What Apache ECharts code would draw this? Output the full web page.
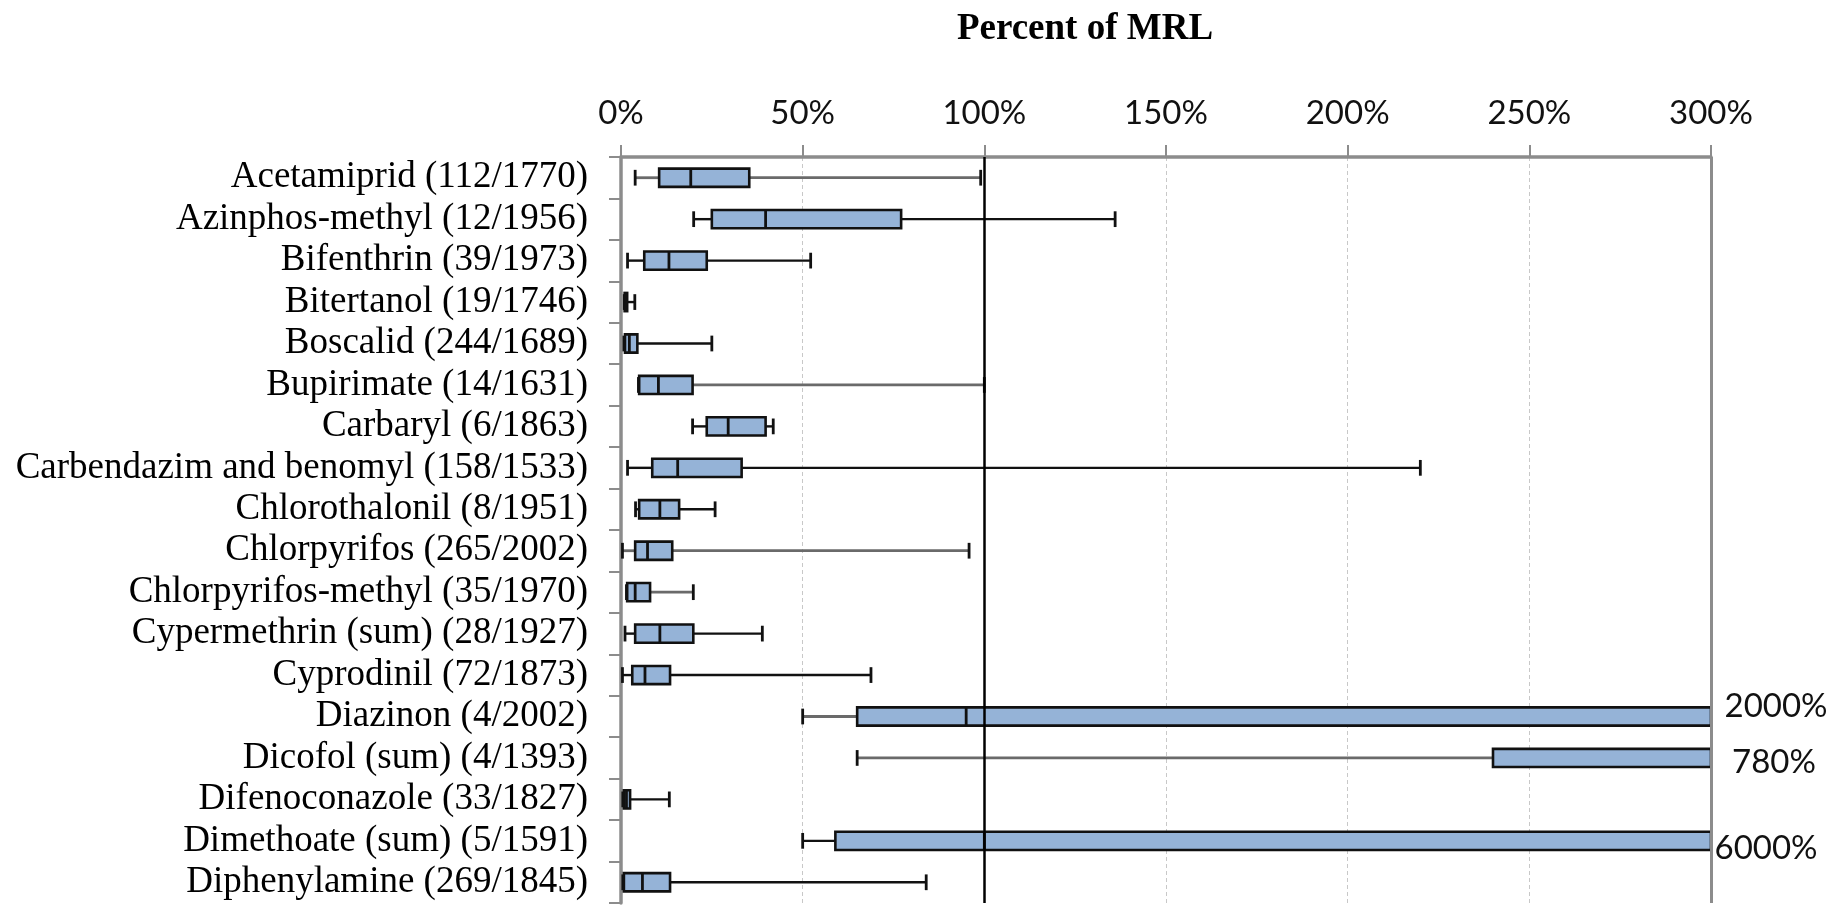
<!DOCTYPE html>
<html>
<head>
<meta charset="utf-8">
<script src="https://cdn.jsdelivr.net/npm/echarts@6/dist/echarts.min.js"></script>
<style>
  html, body { margin: 0; padding: 0; background: #fff; }
  #chart { width: 1832px; height: 905px; }
</style>
</head>
<body>
<div id="chart"></div>
<script>
// Pesticide residues as percent of MRL: (detections / samples) per active substance
const categories = [
  'Acetamiprid (112/1770)',
  'Azinphos-methyl (12/1956)',
  'Bifenthrin (39/1973)',
  'Bitertanol (19/1746)',
  'Boscalid (244/1689)',
  'Bupirimate (14/1631)',
  'Carbaryl (6/1863)',
  'Carbendazim and benomyl (158/1533)',
  'Chlorothalonil (8/1951)',
  'Chlorpyrifos (265/2002)',
  'Chlorpyrifos-methyl (35/1970)',
  'Cypermethrin (sum) (28/1927)',
  'Cyprodinil (72/1873)',
  'Diazinon (4/2002)',
  'Dicofol (sum) (4/1393)',
  'Difenoconazole (33/1827)',
  'Dimethoate (sum) (5/1591)',
  'Diphenylamine (269/1845)'
];

// five-number summaries, % of MRL
const lowValues    = [3.9, 20, 1.8, 0.9, 0.8, 4.8, 19.7, 1.8, 4.0, 0.4, 1.5, 1.1, 0.4, 50, 65, 0.5, 50, 0.5];
const q1Values     = [10.5, 25, 6.4, 1.0, 1.1, 5.0, 23.6, 8.6, 5.0, 3.9, 1.7, 3.9, 3.1, 65, 240, 0.8, 59, 0.8];
const medianValues = [19.2, 39.8, 13.2, 1.3, 2.3, 10.3, 29.5, 15.6, 10.7, 7.3, 3.9, 10.7, 6.6, 95, 420, 1.5, 100, 5.9];
const q3Values     = [35.3, 77.1, 23.6, 1.7, 4.5, 19.7, 39.8, 33.2, 16.0, 14.1, 8.0, 19.9, 13.5, 600, 600, 2.5, 1500, 13.5];
const highValues   = [99, 136, 52.2, 3.8, 25, 100, 41.9, 220, 25.9, 95.8, 19.9, 38.9, 68.8, 2000, 780, 13.3, 6000, 84];

// percent-of-MRL axis
const axisMin = 0;
const axisMax = 300;
const axisStep = 50;
const mrlLimit = 100;

// drawing styles
const BOX_FILL = '#95b3d7';
const INK = '#111';
const AXIS_GREY = '#8c8c8c';
const softWhiskerRows = new Set([
  'Acetamiprid (112/1770)', 'Bupirimate (14/1631)', 'Chlorpyrifos (265/2002)',
  'Chlorpyrifos-methyl (35/1970)', 'Diazinon (4/2002)', 'Dicofol (sum) (4/1393)'
]);
// offsets [dx from plot edge, dy from row centre] for values running past the axis
const overflowLabelOffset = {
  'Diazinon (4/2002)': [65, -10],
  'Dicofol (sum) (4/1393)': [63, 4],
  'Dimethoate (sum) (5/1591)': [55, 8]
};

const boxData = categories.map((c, i) =>
  [i, lowValues[i], q1Values[i], medianValues[i], q3Values[i], highValues[i]]);

function renderBox(params, api) {
  const idx = api.value(0);
  const name = categories[idx];
  const cs = params.coordSys;
  const xEdge = cs.x + cs.width;
  const yc = api.coord([0, idx])[1];
  const band = api.size([0, 1])[1];
  const boxH = band * 0.44;
  const capH = band * 0.38;
  const px = v => Math.min(api.coord([v, idx])[0], xEdge);

  const low = api.value(1), q1 = api.value(2), med = api.value(3), q3 = api.value(4), high = api.value(5);
  const xLow = px(low), xQ1 = px(q1), xMed = px(med), xQ3 = px(q3), xHigh = px(high);
  const whiskerStyle = softWhiskerRows.has(name)
    ? { stroke: '#6a6a6a', lineWidth: 2.8 }
    : { stroke: INK, lineWidth: 2.4 };

  const children = [];
  children.push({ type: 'line', shape: { x1: xLow, y1: yc, x2: xQ1, y2: yc }, style: whiskerStyle });
  children.push({ type: 'line', shape: { x1: xQ3, y1: yc, x2: xHigh, y2: yc }, style: whiskerStyle });
  if (low <= axisMax) {
    children.push({ type: 'line', shape: { x1: xLow, y1: yc - capH / 2, x2: xLow, y2: yc + capH / 2 },
      style: { stroke: INK, lineWidth: 2.8 } });
  }
  if (high <= axisMax) {
    children.push({ type: 'line', shape: { x1: xHigh, y1: yc - capH / 2, x2: xHigh, y2: yc + capH / 2 },
      style: { stroke: INK, lineWidth: 2.8 } });
  }
  children.push({ type: 'rect', shape: { x: xQ1, y: yc - boxH / 2, width: Math.max(xQ3 - xQ1, 0.5), height: boxH },
    style: { fill: BOX_FILL, stroke: INK, lineWidth: 2.6 } });
  if (med <= axisMax) {
    children.push({ type: 'line', shape: { x1: xMed, y1: yc - boxH / 2, x2: xMed, y2: yc + boxH / 2 },
      style: { stroke: INK, lineWidth: 2.8 } });
  }
  if (high > axisMax) {
    const off = overflowLabelOffset[name] || [60, 0];
    children.push({ type: 'text', x: xEdge + off[0], y: yc + off[1],
      style: { text: high + '%', fill: INK, font: '33px Lato', align: 'center', verticalAlign: 'middle' } });
  }
  return { type: 'group', children };
}

const chart = echarts.init(document.getElementById('chart'), null, { renderer: 'canvas' });
chart.setOption({
  animation: false,
  backgroundColor: '#fff',
  graphic: [{
    type: 'text', x: 1085, y: 29,
    style: { text: 'Percent of MRL', font: 'bold 37px "Liberation Serif"', fill: '#000',
      align: 'center', verticalAlign: 'middle' }
  }],
  grid: { left: 621, right: 121, top: 157, bottom: 2, containLabel: false },
  xAxis: {
    type: 'value', position: 'top', min: axisMin, max: axisMax, interval: axisStep,
    axisLine: { show: true, lineStyle: { color: AXIS_GREY, width: 3.5 } },
    axisTick: { show: true, length: 12, lineStyle: { color: AXIS_GREY, width: 2 } },
    axisLabel: { formatter: '{value}%', fontFamily: 'Lato', fontSize: 33, color: INK, margin: 27 },
    splitLine: { show: true, lineStyle: { color: '#c8c8c8', width: 1, type: [4, 3] } }
  },
  yAxis: {
    type: 'category', data: categories, inverse: true,
    axisLine: { show: true, lineStyle: { color: AXIS_GREY, width: 3.5 } },
    axisTick: { show: true, length: 12, lineStyle: { color: AXIS_GREY, width: 2 } },
    axisLabel: { fontFamily: 'Liberation Serif', fontSize: 37, color: '#000', margin: 33, interval: 0 },
    splitLine: { show: false }
  },
  series: [
    {
      type: 'custom', name: 'Percent of MRL',
      coordinateSystem: 'cartesian2d',
      renderItem: renderBox,
      encode: { x: [1, 2, 3, 4, 5], y: 0 },
      data: boxData,
      z: 3
    },
    {
      type: 'line', data: [], z: 5, silent: true,
      markLine: {
        silent: true, symbol: 'none', label: { show: false }, animation: false,
        data: [
          { xAxis: mrlLimit, lineStyle: { color: '#000', width: 2.5, type: 'solid' } },
          { xAxis: axisMax, lineStyle: { color: AXIS_GREY, width: 3, type: 'solid' } }
        ]
      }
    }
  ]
});
</script>
</body>
</html>
